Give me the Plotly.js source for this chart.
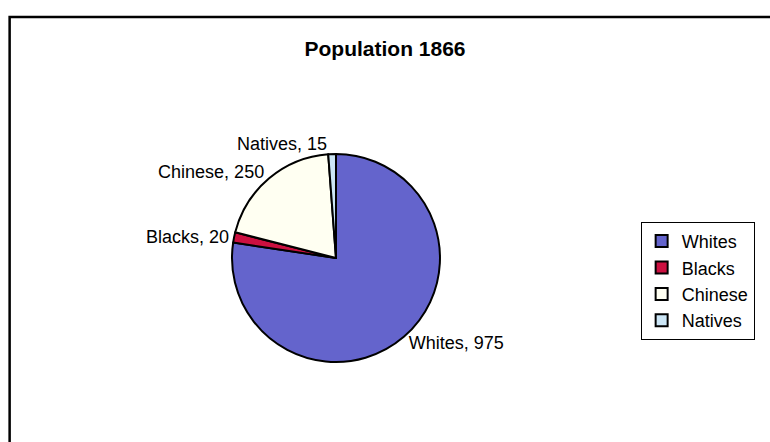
<!DOCTYPE html>
<html>
<head>
<meta charset="utf-8">
<script src="https://cdn.plot.ly/plotly-3.0.1.min.js"></script>
<style>html,body{margin:0;padding:0;background:#fff;}#chart{width:770px;height:442px;}</style>
</head>
<body>
<div id="chart"></div>
<script>
const categories = ["Whites", "Blacks", "Chinese", "Natives"];
const population = [975, 20, 250, 15];
const sliceColors = ["#6464CC", "#CC1040", "#FFFFF2", "#CCE6F6"];
const chartTitle = "Population 1866";

const FONT = "Arial, 'Liberation Sans', sans-serif";

const trace = {
  type: "pie",
  labels: categories,
  values: population,
  sort: false,
  direction: "clockwise",
  rotation: 0,
  marker: { colors: sliceColors, line: { color: "#000", width: 2 } },
  textposition: "outside",
  texttemplate: "%{label}, %{value}",
  textfont: { family: FONT, size: 18, color: "#000" },
  hoverinfo: "label+value",
  domain: { x: [0.3013, 0.5714], y: [0.181, 0.6516] }
};

const layout = {
  width: 770, height: 442,
  margin: { l: 0, r: 0, t: 0, b: 0 },
  paper_bgcolor: "#fff",
  title: {
    text: "<b>" + chartTitle + "</b>",
    font: { family: FONT, size: 21, color: "#000" },
    x: 0.5, xref: "paper", y: 0.891, yref: "container", yanchor: "middle"
  },
  showlegend: true,
  legend: {
    x: 0.832, xanchor: "left", y: 0.498, yanchor: "top",
    bordercolor: "#000", borderwidth: 1, bgcolor: "#fff",
    font: { family: FONT, size: 18, color: "#000" },
    itemwidth: 30, entrywidth: 140
  },
  shapes: [{
    type: "rect", xref: "paper", yref: "paper",
    x0: 0.0125, x1: 1.05, y0: -0.05, y1: 0.9615,
    line: { color: "#000", width: 2.5 }, fillcolor: "rgba(0,0,0,0)"
  }]
};

Plotly.newPlot("chart", [trace], layout, { displayModeBar: false, staticPlot: true });
</script>
</body>
</html>
